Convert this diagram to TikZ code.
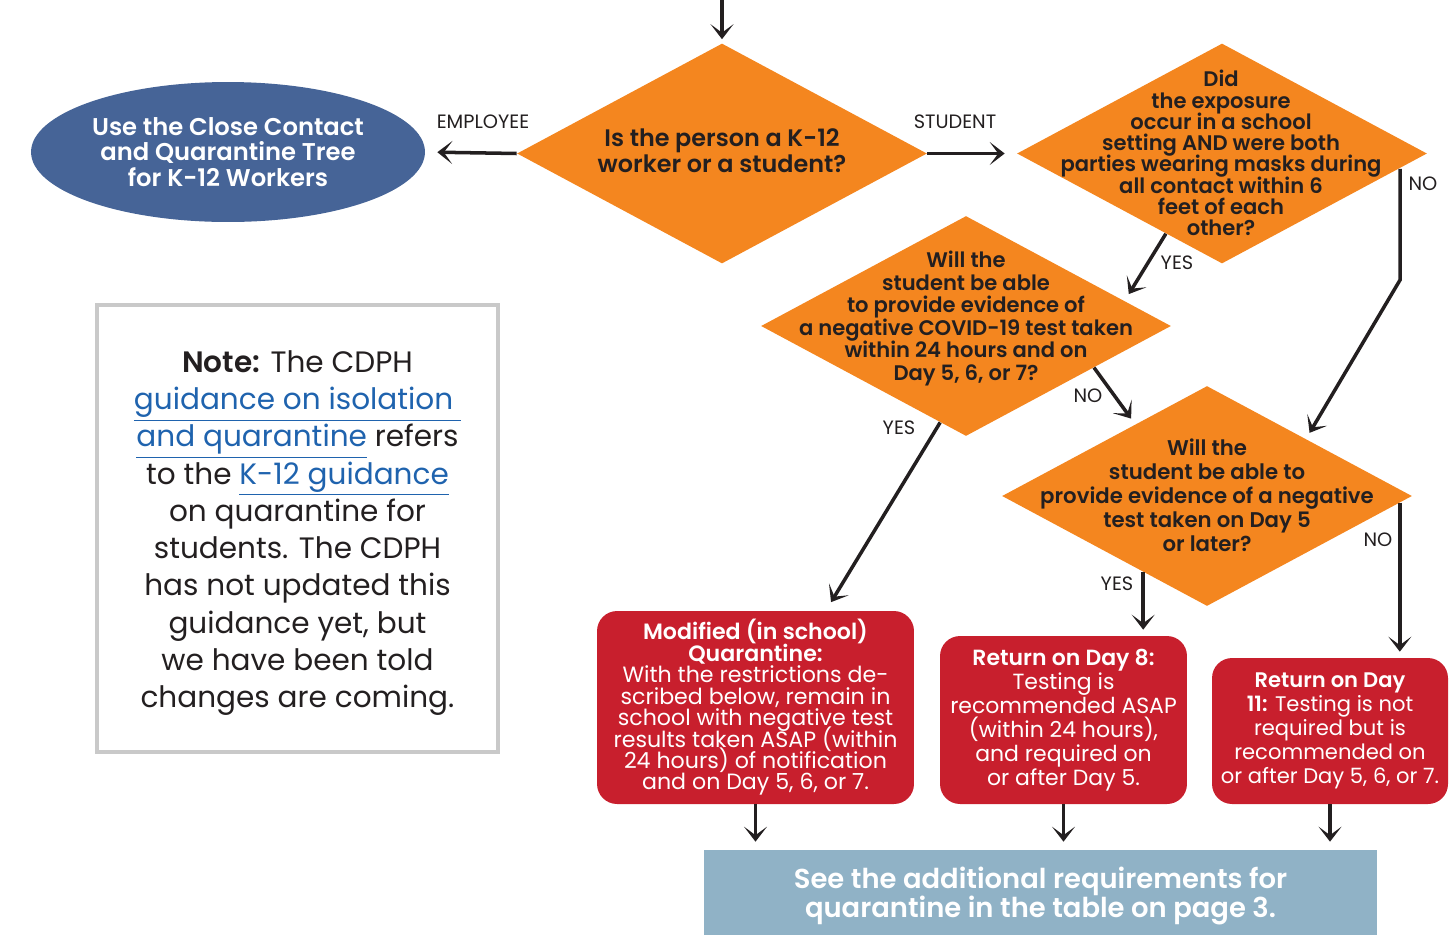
\documentclass[tikz,border=0pt]{standalone}
\usepackage{fontspec}
\setmainfont{Poppins}[BoldFont={Poppins SemiBold}]
\usetikzlibrary{shapes.geometric,arrows.meta}
\definecolor{qorange}{HTML}{F4861F}
\definecolor{qred}{HTML}{C81F2D}
\definecolor{qblue}{HTML}{466497}
\definecolor{qsky}{HTML}{90B2C6}
\definecolor{qlink}{HTML}{1F63AE}
\definecolor{qgray}{HTML}{C9C9C9}
\definecolor{qink}{HTML}{231F20}
\begin{document}
\begin{tikzpicture}[x=0.02cm,y=-0.02cm,
  every node/.style={execute at begin node={\lineskiplimit=-20pt}},
  decision/.style={diamond, fill=qorange, minimum width=8.2cm, minimum height=4.4cm, inner sep=0pt},
  qtext/.style={align=center, text=qink, inner sep=0pt},
  outcome/.style={rectangle, rounded corners=0.4cm, fill=qred, text=white, align=center, inner sep=0pt},
  tag/.style={text=qink, inner sep=0pt, font=\fontsize{11}{12}\selectfont},
  arr/.style={line width=2pt, draw=qink, -{Stealth[length=0.3cm,width=0.46cm,inset=0.17cm]}}]
\useasboundingbox (0,0) rectangle (1452,934);
\coordinate (start) at (722,0);
\node (q1) [decision] at (722,153.5) {};
\node (q1t) [qtext, font=\bfseries\fontsize{13.6}{14.7}\selectfont] at (722,151) {Is the person a K-12\\worker or a student?};
\node (tree) [ellipse, fill=qblue, minimum width=7.88cm, minimum height=2.8cm, inner sep=0pt] at (228,152) {};
\node (treet) [qtext, text=white, font=\bfseries\fontsize{13.8}{14.7}\selectfont] at (tree) {Use the Close Contact\\and Quarantine Tree\\for K-12 Workers};
\node (q2) [decision] at (1222,153.5) {};
\node (q2t) [qtext, font=\bfseries\fontsize{12}{12.1}\selectfont] at (1221,153) {Did\\the exposure\\occur in a school\\setting AND were both\\parties wearing masks during\\all contact within 6\\feet of each\\other?};
\node (q3) [decision] at (966,326) {};
\node (q3t) [qtext, font=\bfseries\fontsize{12}{12.8}\selectfont] at (966,318.5) {Will the\\student be able\\to provide evidence of\\a negative COVID-19 test taken\\within 24 hours and on\\Day 5, 6, or 7?};
\node (q4) [decision] at (1207,496) {};
\node (q4t) [qtext, font=\bfseries\fontsize{12.1}{13.6}\selectfont] at (1207,495) {Will the\\student be able to\\provide evidence of a negative\\test taken on Day 5\\or later?};
\node (modq) [outcome, minimum width=6.34cm, minimum height=3.86cm, font=\fontsize{12.6}{12.2}\selectfont] at (755.5,707.5) {\textbf{Modified (in school)}\\\textbf{Quarantine:}\\With the restrictions de-\\scribed below, remain in\\school with negative test\\results taken ASAP (within\\24 hours) of notification\\and on Day 5, 6, or 7.};
\node (ret8) [outcome, minimum width=4.94cm, minimum height=3.36cm, font=\fontsize{12.5}{13.6}\selectfont] at (1063.5,720) {\textbf{Return on Day 8:}\\Testing is\\recommended ASAP\\(within 24 hours),\\and required on\\or after Day 5.};
\node (ret11) [outcome, minimum width=4.72cm, minimum height=2.92cm, font=\fontsize{12}{13.6}\selectfont] at (1330,731) {\textbf{Return on Day}\\\textbf{11:} Testing is not\\required but is\\recommended on\\or after Day 5, 6, or 7.};
\node (seemore) [rectangle, fill=qsky, text=white, align=center, minimum width=13.46cm, minimum height=1.84cm, inner sep=0pt, font=\bfseries\fontsize{15.6}{17}\selectfont] at (1040.5,896) {See the additional requirements for\\quarantine in the table on page 3.};
\node (note) [rectangle, draw=qgray, line width=2.3pt, minimum width=8.02cm, minimum height=8.94cm, inner sep=0pt] at (297.5,528.5) {};
\node (notet) [qtext, font=\fontsize{16.8}{21.2}\selectfont] at (297.5,533) {\textbf{Note:} The CDPH\\\textcolor{qlink}{\underline{guidance on isolation\ }}\\\textcolor{qlink}{\underline{and quarantine}} refers\\to the \textcolor{qlink}{\underline{K-12 guidance}}\\on quarantine for\\students. The CDPH\\has not updated this\\guidance yet, but\\we have been told\\changes are coming.};
\node (lemp) [tag] at (483,122) {EMPLOYEE};
\node (lstu) [tag] at (955,122) {STUDENT};
\node (lno2) [tag] at (1423,184) {NO};
\node (lyes2) [tag] at (1177,263) {YES};
\node (lno3) [tag] at (1088,396) {NO};
\node (lyes3) [tag] at (899,428) {YES};
\node (lyes4) [tag] at (1117,584) {YES};
\node (lno4) [tag] at (1378,540) {NO};
\coordinate (noturn) at (1400,280);
\draw [arr, shorten >=0.08cm] (start) -- (q1.north);
\draw [arr, shorten >=0.24cm] (q1.west) -- (tree.east);
\draw [arr, shorten >=0.24cm] (q1.east) -- (q2.west);
\draw [arr, shorten >=0.16cm] (q2.235) -- (q3.9);
\draw [arr, shorten >=0.14cm] (q3.342) -- (q4.135);
\draw [arr, shorten >=0.14cm] (noturn |- q2.355) -- (noturn) -- (q4.30);
\draw [arr, shorten >=0.2cm] (q3.255) -- (modq.54);
\draw [arr, shorten >=0.12cm] (q4.230) -- (q4.230 |- ret8.north);
\draw [arr, shorten >=0.12cm] (q4.358) -- (q4.358 |- ret11.north);
\draw [arr, shorten >=0.16cm] (modq) -- (modq |- seemore.north);
\draw [arr, shorten >=0.16cm] (ret8) -- (ret8 |- seemore.north);
\draw [arr, shorten >=0.16cm] (ret11) -- (ret11 |- seemore.north);
\end{tikzpicture}
\end{document}
